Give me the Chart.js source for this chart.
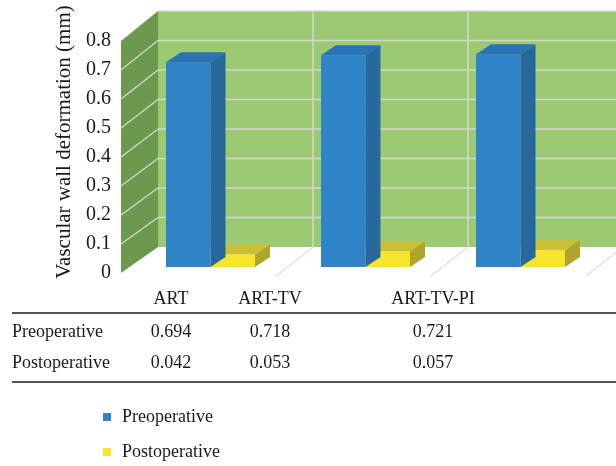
<!DOCTYPE html>
<html>
<head>
<meta charset="utf-8">
<script src="https://cdn.jsdelivr.net/npm/chart.js@4.4.1/dist/chart.umd.min.js"></script>
<style>
  html, body { margin: 0; padding: 0; background: #ffffff; }
  #wrap { width: 616px; height: 466px; }
</style>
</head>
<body>
<div id="wrap"><canvas id="c" width="616" height="466"></canvas></div>
<script>
// Vascular wall deformation before and after surgery, per technique
const categories = ['ART', 'ART-TV', 'ART-TV-PI'];
const preoperative = [0.694, 0.718, 0.721];
const postoperative = [0.042, 0.053, 0.057];
const seriesNames = ['Preoperative', 'Postoperative'];
const yTicks = [0, 0.1, 0.2, 0.3, 0.4, 0.5, 0.6, 0.7, 0.8];
const yTitle = 'Vascular wall deformation (mm)';

const SERIF = '"Liberation Serif", "DejaVu Serif", serif';

// Shading for the extruded bar faces
const faces = [
  { front: '#2E84C6', top: '#2A73B4', side: '#27699D' },
  { front: '#F7E52B', top: '#CBBF33', side: '#AEA52D' }
];

// Oblique projection offsets (pixels) relative to the plane of the bar fronts
const BAR_DEPTH = { dx: 15, dy: -10 };
const BACK = { dx: 25, dy: -20 };
const FRONT = { dx: -12, dy: 6, k: 0.983 };

const bar3d = {
  id: 'bar3d',
  beforeDraw(chart) {
    const ctx = chart.ctx;
    ctx.save();
    ctx.fillStyle = '#ffffff';
    ctx.fillRect(0, 0, chart.width, chart.height);
    ctx.restore();
  },
  beforeDatasetsDraw(chart) {
    const ctx = chart.ctx;
    const a = chart.chartArea;
    const y = chart.scales.y;
    const n = categories.length;
    const band = (a.right - a.left) / n;
    const vTop = yTicks[yTicks.length - 1];
    const by = v => y.getPixelForValue(v) + BACK.dy;
    const fy = v => a.bottom + FRONT.dy - (a.bottom - y.getPixelForValue(v)) * FRONT.k;
    const backL = a.left + BACK.dx, backR = a.right + BACK.dx;
    const frontX = a.left + FRONT.dx;

    ctx.save();
    // back wall
    ctx.fillStyle = '#9CCA72';
    ctx.fillRect(backL, by(vTop), backR - backL, by(0) - by(vTop));
    ctx.strokeStyle = '#D4D9D0';
    ctx.lineWidth = 1.5;
    yTicks.forEach(v => {
      if (v === 0) return;
      ctx.beginPath();
      ctx.moveTo(backL, by(v));
      ctx.lineTo(backR, by(v));
      ctx.stroke();
    });
    for (let k = 1; k < n; k++) {
      const x = backL + k * band;
      ctx.beginPath();
      ctx.moveTo(x, by(vTop));
      ctx.lineTo(x, by(0));
      ctx.stroke();
    }

    // side wall
    ctx.fillStyle = '#6B9A4E';
    ctx.beginPath();
    ctx.moveTo(frontX, fy(0));
    ctx.lineTo(frontX, fy(vTop));
    ctx.lineTo(backL, by(vTop));
    ctx.lineTo(backL, by(0));
    ctx.closePath();
    ctx.fill();
    ctx.strokeStyle = '#D6DCD2';
    ctx.lineWidth = 1.2;
    yTicks.forEach(v => {
      if (v === 0 || v === vTop) return;
      ctx.beginPath();
      ctx.moveTo(frontX, fy(v));
      ctx.lineTo(backL, by(v));
      ctx.stroke();
    });

    // floor divisions
    ctx.strokeStyle = '#C9CEDD';
    ctx.lineWidth = 1;
    for (let k = 1; k <= n; k++) {
      const xb = backL + k * band;
      ctx.beginPath();
      ctx.moveTo(xb, by(0));
      ctx.lineTo(xb - 37, by(0) + 29);
      ctx.stroke();
    }
    ctx.restore();
  },
  afterDatasetDraw(chart, args) {
    const ctx = chart.ctx;
    const meta = args.meta;
    const f = faces[args.index];
    const { dx, dy } = BAR_DEPTH;
    ctx.save();
    meta.data.forEach(el => {
      const p = el.getProps(['x', 'y', 'base', 'width'], true);
      const l = p.x - p.width / 2, r = p.x + p.width / 2;
      ctx.fillStyle = f.top;
      ctx.beginPath();
      ctx.moveTo(l, p.y);
      ctx.lineTo(l + dx, p.y + dy);
      ctx.lineTo(r + dx, p.y + dy);
      ctx.lineTo(r, p.y);
      ctx.closePath();
      ctx.fill();
      ctx.fillStyle = f.side;
      ctx.beginPath();
      ctx.moveTo(r, p.y);
      ctx.lineTo(r + dx, p.y + dy);
      ctx.lineTo(r + dx, p.base + dy);
      ctx.lineTo(r, p.base);
      ctx.closePath();
      ctx.fill();
    });
    ctx.restore();
  },
  afterDraw(chart) {
    const ctx = chart.ctx;
    const a = chart.chartArea;
    const y = chart.scales.y;
    const fy = v => a.bottom + FRONT.dy - (a.bottom - y.getPixelForValue(v)) * FRONT.k;
    ctx.save();
    ctx.fillStyle = '#1a1a1a';

    // value axis labels
    ctx.font = '20px ' + SERIF;
    ctx.textAlign = 'right';
    ctx.textBaseline = 'middle';
    yTicks.forEach(v => ctx.fillText(String(v), 111, fy(v)));

    // value axis title
    ctx.save();
    ctx.font = '21px ' + SERIF;
    ctx.translate(64, 142);
    ctx.rotate(-Math.PI / 2);
    ctx.textAlign = 'center';
    ctx.fillText(yTitle, 0, 0);
    ctx.restore();

    // data table
    const cols = [171, 270, 433];
    ctx.font = '18px ' + SERIF;
    ctx.textAlign = 'center';
    categories.forEach((c, i) => ctx.fillText(c, cols[i], 299));
    const rows = [preoperative, postoperative];
    const rowY = [332, 363];
    rows.forEach((vals, r) => {
      ctx.textAlign = 'left';
      ctx.fillText(seriesNames[r], 12, rowY[r]);
      ctx.textAlign = 'center';
      vals.forEach((v, i) => ctx.fillText(v.toFixed(3), cols[i], rowY[r]));
    });
    ctx.strokeStyle = '#555555';
    ctx.lineWidth = 2;
    [313, 382].forEach(ly => {
      ctx.beginPath();
      ctx.moveTo(12, ly);
      ctx.lineTo(616, ly);
      ctx.stroke();
    });

    // legend
    const legY = [417, 452];
    chart.data.datasets.forEach((ds, i) => {
      ctx.fillStyle = ds.backgroundColor;
      ctx.fillRect(103, legY[i] - 4, 8, 8);
      ctx.fillStyle = '#1a1a1a';
      ctx.textAlign = 'left';
      ctx.fillText(ds.label, 122, legY[i]);
    });
    ctx.restore();
  }
};

new Chart(document.getElementById('c'), {
  type: 'bar',
  data: {
    labels: categories,
    datasets: [
      { label: seriesNames[0], data: preoperative, backgroundColor: faces[0].front, borderWidth: 0 },
      { label: seriesNames[1], data: postoperative, backgroundColor: faces[1].front, borderWidth: 0 }
    ]
  },
  options: {
    responsive: false,
    devicePixelRatio: 1,
    animation: false,
    layout: { padding: { left: 133, right: 18, top: 31, bottom: 199 } },
    datasets: { bar: { categoryPercentage: 0.574, barPercentage: 1 } },
    scales: {
      x: { display: false },
      y: { display: false, min: 0, max: 0.8 }
    },
    plugins: { legend: { display: false }, tooltip: { enabled: false } }
  },
  plugins: [bar3d]
});
</script>
</body>
</html>
